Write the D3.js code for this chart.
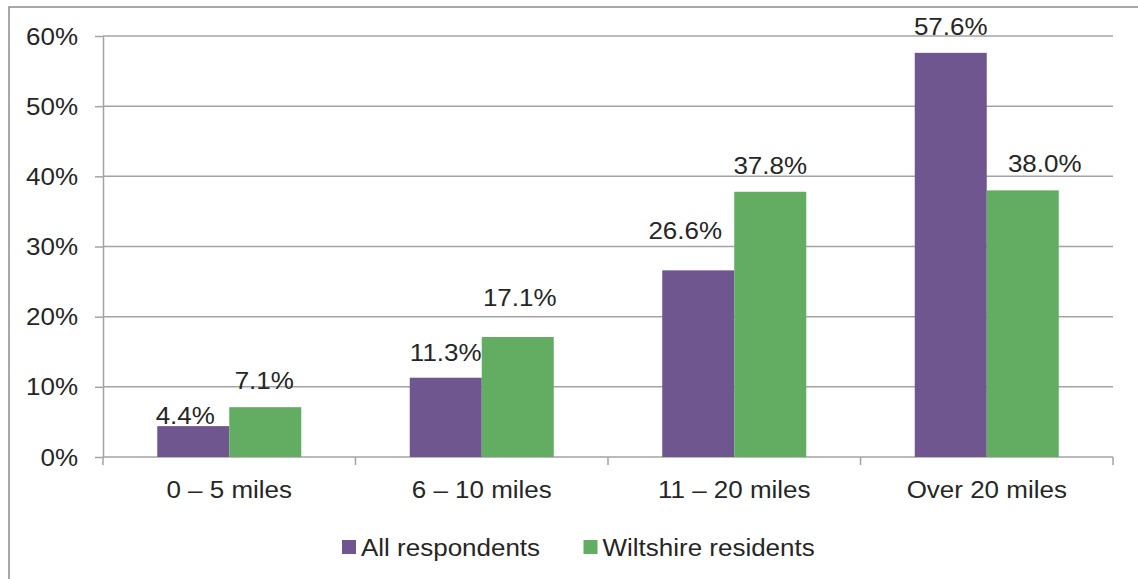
<!DOCTYPE html>
<html>
<head>
<meta charset="utf-8">
<script src="https://cdn.jsdelivr.net/npm/d3@7"></script>
<style>
  html, body { margin: 0; padding: 0; background: #fff; }
  svg { display: block; font-family: "Liberation Sans", Arial, sans-serif; }
</style>
</head>
<body>
<svg id="chart" width="1138" height="579"></svg>
<script>
// Distance bands and the share of each respondent group (percent)
const categories = ["0 – 5 miles", "6 – 10 miles", "11 – 20 miles", "Over 20 miles"];
const seriesNames = ["All respondents", "Wiltshire residents"];
const allRespondents = [4.4, 11.3, 26.6, 57.6];
const wiltshireResidents = [7.1, 17.1, 37.8, 38.0];
const yTicks = [0, 10, 20, 30, 40, 50, 60];

// Hand-placed nudges for individual value labels [dx, dy]
const labelNudge = [
  [[-8, 16], [0, 1], [-13, -13], [0, 0]],
  [[-1, 0], [2, -13], [0, 0], [22, 0]]
];

const colors = ["#6F568E", "#62AD61"];
const textColor = "#262626";
const gridColor = "#A3A3A3";
const fontSize = 23;
const stretch = 1.13;

const svg = d3.select("#chart");
const margin = { left: 103, right: 1113, top: 36, bottom: 457 };

// Outer frame
svg.append("rect")
  .attr("x", 9).attr("y", 7)
  .attr("width", 1150).attr("height", 600)
  .attr("fill", "none").attr("stroke", "#8C8C8C").attr("stroke-width", 1.5);

const x = d3.scaleBand().domain(categories).range([margin.left, margin.right]).paddingInner(0).paddingOuter(0);
const xs = d3.scaleBand().domain(seriesNames).range([0, x.bandwidth()]).paddingInner(0).paddingOuter(0.7535);
const y = d3.scaleLinear().domain([0, 60]).range([margin.bottom, margin.top]);

// Horizontal gridlines
svg.append("g").selectAll("line").data(yTicks.filter(d => d > 0)).join("line")
  .attr("x1", margin.left).attr("x2", margin.right)
  .attr("y1", d => y(d)).attr("y2", d => y(d))
  .attr("stroke", gridColor).attr("stroke-width", 1.5);

// Y axis
const yAxis = svg.append("g")
  .attr("transform", `translate(${margin.left},0)`)
  .call(d3.axisLeft(y).tickValues(yTicks).tickFormat(d => d + "%").tickSize(8).tickSizeOuter(0));
yAxis.select(".domain").attr("stroke", gridColor).attr("stroke-width", 1.5);
yAxis.selectAll(".tick line").attr("stroke", gridColor).attr("stroke-width", 1.5);
yAxis.selectAll(".tick text")
  .attr("x", -25 / stretch)
  .attr("dy", "0.35em")
  .attr("transform", `scale(${stretch},1)`)
  .attr("fill", textColor)
  .style("font-size", fontSize + "px")
  .style("font-family", "'Liberation Sans', Arial, sans-serif");

// X axis baseline with ticks at band boundaries
const xAxis = svg.append("g");
xAxis.append("line")
  .attr("x1", margin.left).attr("x2", margin.right)
  .attr("y1", y(0)).attr("y2", y(0))
  .attr("stroke", gridColor).attr("stroke-width", 1.5);
const boundaries = categories.map(c => x(c)).concat([x.range()[1]]);
xAxis.selectAll("line.tick").data(boundaries).join("line")
  .attr("class", "tick")
  .attr("x1", d => d).attr("x2", d => d)
  .attr("y1", y(0)).attr("y2", y(0) + 8)
  .attr("stroke", gridColor).attr("stroke-width", 1.5);

function stretchedText(parent, px, py, txt, anchor) {
  const g = parent.append("g").attr("transform", `translate(${px},${py})`);
  g.append("text")
    .attr("transform", `scale(${stretch},1)`)
    .attr("text-anchor", anchor)
    .attr("fill", textColor)
    .style("font-size", fontSize + "px")
    .text(txt);
  return g;
}

// Category labels
const catG = svg.append("g");
categories.forEach(c => stretchedText(catG, x(c) + x.bandwidth() / 2, 498, c, "middle"));

// Bars
const series = [allRespondents, wiltshireResidents];
const barsG = svg.append("g");
series.forEach((vals, si) => {
  barsG.append("g").selectAll("rect").data(vals).join("rect")
    .attr("x", (d, i) => x(categories[i]) + xs(seriesNames[si]))
    .attr("y", d => y(d))
    .attr("width", xs.bandwidth())
    .attr("height", d => y(0) - y(d))
    .attr("fill", colors[si]);
});

// Value labels
const labG = svg.append("g");
series.forEach((vals, si) => {
  vals.forEach((v, i) => {
    const cx = x(categories[i]) + xs(seriesNames[si]) + xs.bandwidth() / 2 + labelNudge[si][i][0];
    const cy = y(v) - 18 + labelNudge[si][i][1];
    stretchedText(labG, cx, cy, v.toFixed(1) + "%", "middle");
  });
});

// Legend
const legend = svg.append("g");
const legendX = [342, 583.5];
seriesNames.forEach((name, si) => {
  legend.append("rect")
    .attr("x", legendX[si]).attr("y", 540)
    .attr("width", 14).attr("height", 14)
    .attr("fill", colors[si]);
  stretchedText(legend, legendX[si] + 19, 556, name, "start");
});
</script>
</body>
</html>
